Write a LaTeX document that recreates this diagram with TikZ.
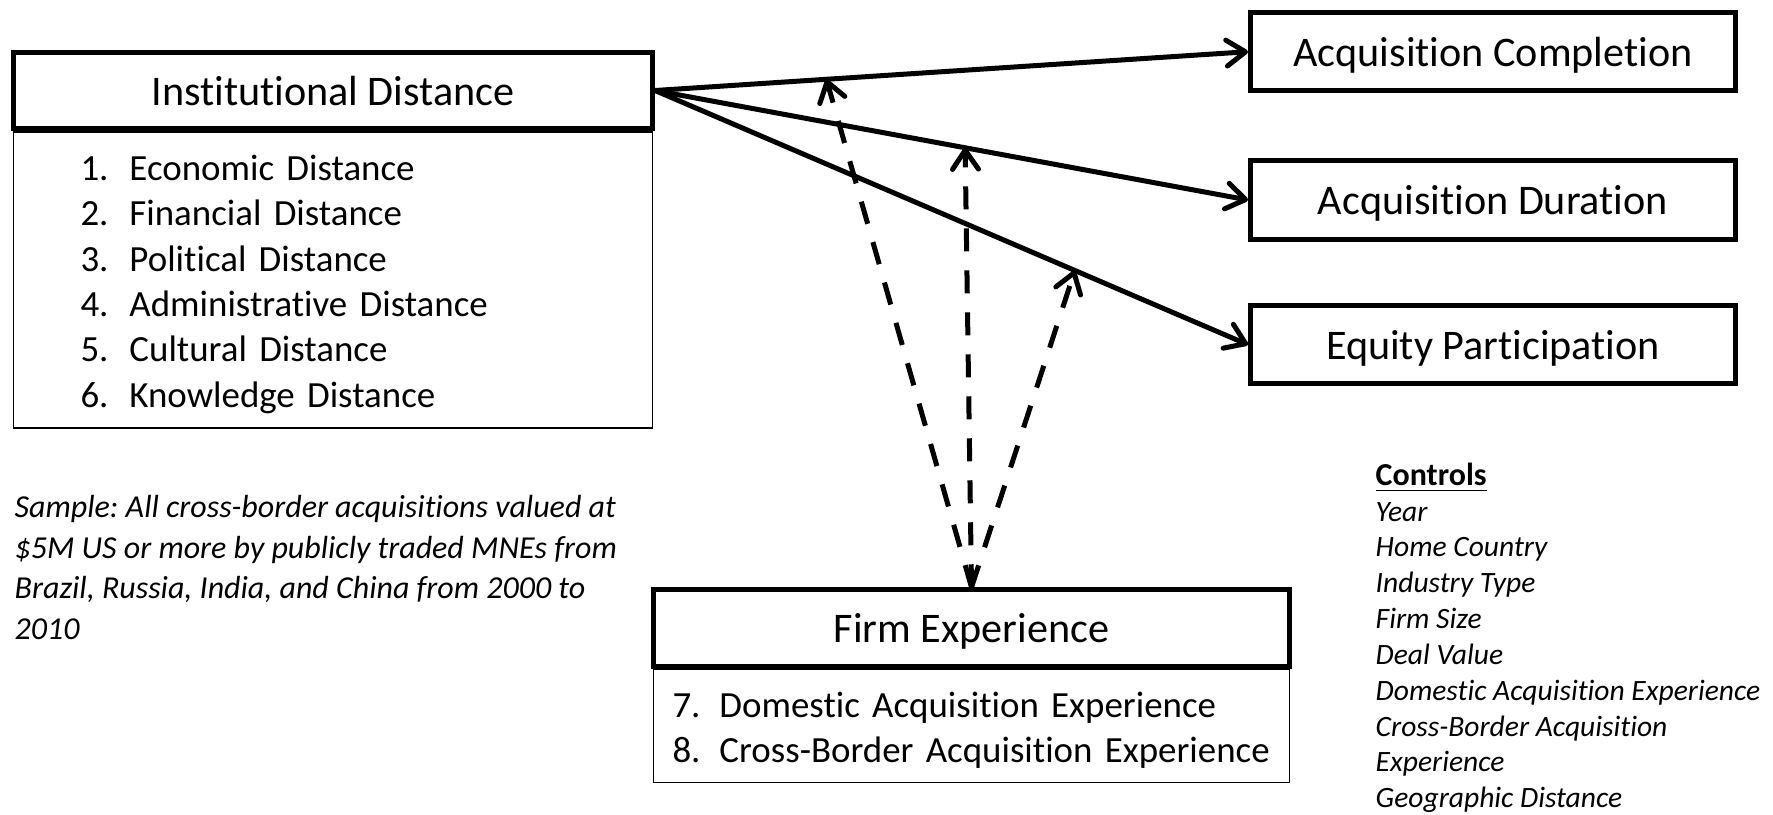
\documentclass[tikz,border=0pt]{standalone}
\usepackage{fontspec}
\setmainfont{Carlito}[Ligatures=NoCommon]
\usetikzlibrary{arrows.meta,positioning,calc}

\begin{document}
\frenchspacing
\begin{tikzpicture}[
      every node/.style={font=\fontsize{12}{14.5}\selectfont},
      headbox/.style={rectangle, draw=black, line width=0.5mm, fill=white,
                      minimum width=6.39cm, minimum height=0.765cm,
                      text height=3.0mm, text depth=0.1mm,
                      inner sep=0pt, align=center},
      listbox/.style={rectangle, draw=black, line width=0.15mm,
                      minimum width=6.39cm, inner ysep=0pt, align=left,
                      text height=3.4mm,
                      font=\fontsize{10.5}{12.9}\selectfont},
      outbox/.style={rectangle, draw=black, line width=0.5mm,
                     minimum width=4.85cm, minimum height=0.785cm,
                     text height=3.0mm, text depth=0.1mm, inner sep=0pt},
      note/.style={anchor=north west, align=left, inner sep=0pt},
      effect/.style={-{Straight Barb[length=1.9mm, width=2.6mm, round]},
                     line width=0.5mm},
      moderate/.style={effect, dash pattern=on 2.3mm off 1.9mm},
    ]
  
    \useasboundingbox[fill=white] (0,0) rectangle (17.73,-8.14);
  
    % predictors
    \node[headbox] (inst) at (3.33,-0.905) {Institutional Distance};
    \node[listbox, below=0pt of inst, minimum height=2.96cm,
          text width=5.05cm, inner xsep=0.67cm] (instlist)
      {\makebox[0.49cm][l]{1.}Economic Distance\\
       \makebox[0.49cm][l]{2.}Financial Distance\\
       \makebox[0.49cm][l]{3.}Political Distance\\
       \makebox[0.49cm][l]{4.}Administrative Distance\\
       \makebox[0.49cm][l]{5.}Cultural Distance\\
       \makebox[0.49cm][l]{6.}Knowledge Distance};
  
    % outcomes
    \node[outbox] (comp) at (14.93,-0.517) {Acquisition Completion};
    \node[outbox] (dur)  at (14.93,-2.0)   {Acquisition Duration};
    \node[outbox] (eq)   at (14.93,-3.447) {Equity Participation};
  
    % moderator
    \node[headbox, minimum width=6.36cm] (firm)
      at (9.715,-6.28) {Firm Experience};
    \node[listbox, below=0pt of firm, minimum width=6.36cm, minimum height=1.13cm,
          text width=5.98cm, inner xsep=0.19cm] (firmlist)
      {\makebox[0.47cm][l]{7.}Domestic Acquisition Experience\\
       \makebox[0.47cm][l]{8.}Cross-Border Acquisition Experience};
  
    % notes
    \node[note, font=\fontsize{9.1}{11.6}\selectfont\itshape] (sample)
      at (0.14,-4.945)
      {Sample: All cross-border acquisitions valued at\\
       \$5M US or more by publicly traded MNEs from\\
       Brazil, Russia, India, and China from 2000 to\\
       2010};
  
    \node[note, font=\fontsize{8.4}{10.2}\selectfont\itshape] (controls)
      at (13.75,-4.62)
      {{\fontsize{9.1}{10.2}\selectfont\underline{\textbf{\upshape Controls}}}\\
       Year\\
       Home Country\\
       Industry Type\\
       Firm Size\\
       Deal Value\\
       Domestic Acquisition Experience\\
       Cross-Border Acquisition\\
       Experience\\
       Geographic Distance};
  
    % main effects
    \draw[effect] (inst.east) -- (comp.west);
    \draw[effect] (inst.east) -- (dur.west);
    \draw[effect] (inst.east) -- (eq.west);
  
    % moderation
    \coordinate (m1) at ($(inst.east)!0.289!(comp.west)$);
    \coordinate (m2) at ($(inst.east)!0.523!(dur.west)$);
    \coordinate (m3) at ($(inst.east)!0.708!(eq.west)$);
    \draw[moderate] (firm.north) -- (m1);
    \draw[moderate] (firm.north) -- (m2);
    \draw[moderate] (firm.north) -- (m3);
  
  \end{tikzpicture}
\end{document}
